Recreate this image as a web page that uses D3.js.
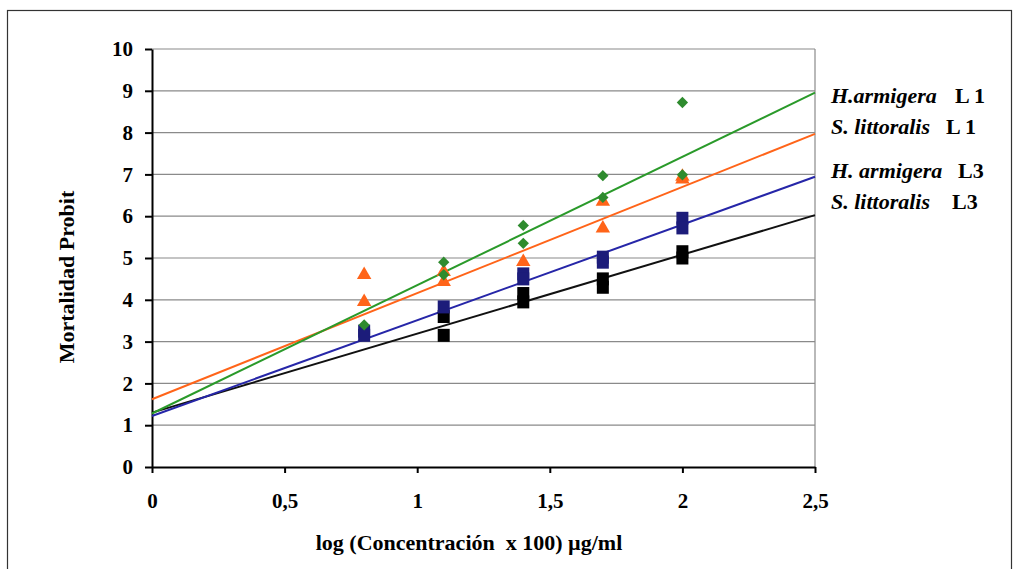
<!DOCTYPE html>
<meta charset="utf-8">
<script src="https://d3js.org/d3.v7.min.js"></script>
<style>
  body { margin: 0; background: #fff; }
  text { font-family: "Liberation Serif", "Times New Roman", serif; font-weight: bold; }
</style>
<div id="chart"></div>
<script>
// series names (legend)
var seriesNames = ["H.armigera", "S. littoralis", "H. armigera", "S. littoralis"];
var seriesStages = ["L 1", "L 1", "L3", "L3"];
var seriesColors = ["#2e8b2e", "#ff6419", "#1c1c7a", "#000000"];
var lineColors = ["#2a9a2a", "#ff6419", "#2626a8", "#111111"];
var seriesShapes = ["diamond", "triangle", "square", "square"];

// regression line parameters (probit = a + b * log conc)
var intercepts = [1.28, 1.62, 1.22, 1.30];
var slopes = [3.07, 2.54, 2.29, 1.89];

// observed points [log conc, probit]
var haL1 = [[0.8, 3.4], [1.1, 4.9], [1.1, 4.6], [1.4, 5.78], [1.4, 5.35], [1.7, 6.97], [1.7, 6.45], [2.0, 8.72], [2.0, 6.99]];
var slL1 = [[0.8, 4.6], [0.8, 3.95], [1.1, 4.67], [1.1, 4.43], [1.4, 4.91], [1.7, 6.35], [1.7, 5.71], [2.0, 6.95], [2.0, 6.88]];
var haL3 = [[0.8, 3.25], [0.8, 3.15], [1.1, 3.83], [1.4, 4.62], [1.4, 4.5], [1.7, 5.02], [1.7, 4.9], [2.0, 5.95], [2.0, 5.72]];
var slL3 = [[1.1, 3.6], [1.1, 3.15], [1.4, 4.15], [1.4, 3.95], [1.7, 4.5], [1.7, 4.3], [2.0, 5.15], [2.0, 5.0]];
var points = [haL1, slL1, haL3, slL3];

var xTicks = [0, 0.5, 1, 1.5, 2, 2.5];
var xTickLabels = ["0", "0,5", "1", "1,5", "2", "2,5"];
var yTicks = [0, 1, 2, 3, 4, 5, 6, 7, 8, 9, 10];

var W = 1020, H = 569;
var plotLeft = 152, plotRight = 815, plotTop = 49, plotBottom = 467;

var svg = d3.select("#chart").append("svg")
    .attr("width", W)
    .attr("height", H);

// outer frame
svg.append("rect")
    .attr("x", 7.5).attr("y", 10.5)
    .attr("width", 1004).attr("height", 580)
    .attr("fill", "none")
    .attr("stroke", "#333")
    .attr("stroke-width", 1.2);

var x = d3.scaleLinear().domain([0, 2.5]).range([plotLeft, plotRight]);
var y = d3.scaleLinear().domain([0, 10]).range([plotBottom, plotTop]);

// gridlines
svg.append("g")
    .selectAll("line")
    .data(yTicks.filter(function (d) { return d > 0; }))
    .enter().append("line")
    .attr("x1", plotLeft).attr("x2", plotRight)
    .attr("y1", function (d) { return y(d); })
    .attr("y2", function (d) { return y(d); })
    .attr("stroke", "#8a8a8a")
    .attr("stroke-width", 1.2);

// right border of plot area
svg.append("line")
    .attr("x1", plotRight).attr("x2", plotRight)
    .attr("y1", plotTop).attr("y2", plotBottom)
    .attr("stroke", "#8a8a8a")
    .attr("stroke-width", 1.2);

// axes
var yAxis = svg.append("g")
    .attr("transform", "translate(" + plotLeft + ",0)")
    .call(d3.axisLeft(y).tickValues(yTicks).tickSize(7).tickPadding(12).tickSizeOuter(0));
var xAxis = svg.append("g")
    .attr("transform", "translate(0," + plotBottom + ")")
    .call(d3.axisBottom(x).tickValues(xTicks).tickSize(6).tickPadding(20).tickSizeOuter(0)
        .tickFormat(function (d, i) { return xTickLabels[i]; }));

[yAxis, xAxis].forEach(function (a) {
    a.select(".domain").attr("stroke", "#000").attr("stroke-width", 2);
    a.selectAll(".tick line").attr("stroke", "#000").attr("stroke-width", 2);
    a.selectAll(".tick text")
        .attr("fill", "#000")
        .style("font-family", "'Liberation Serif', serif")
        .style("font-weight", "bold")
        .style("font-size", "21px");
});

// regression lines
var lineGroup = svg.append("g");
[3, 2, 1, 0].forEach(function (i) {
    lineGroup.append("line")
        .attr("x1", x(0)).attr("y1", y(intercepts[i]))
        .attr("x2", x(2.5)).attr("y2", y(intercepts[i] + slopes[i] * 2.5))
        .attr("stroke", lineColors[i])
        .attr("stroke-width", 2);
});

// markers
[3, 2, 1, 0].forEach(function (i) {
    var g = svg.append("g");
    var shape = seriesShapes[i];
    if (shape === "square") {
        g.selectAll("rect")
            .data(points[i])
            .enter().append("rect")
            .attr("x", function (d) { return x(d[0]) - 6; })
            .attr("y", function (d) { return y(d[1]) - 6.5; })
            .attr("width", 12)
            .attr("height", 13)
            .attr("fill", seriesColors[i]);
    } else if (shape === "diamond") {
        // square turned 45 degrees
        g.selectAll("path")
            .data(points[i])
            .enter().append("path")
            .attr("transform", function (d) { return "translate(" + x(d[0]) + "," + y(d[1]) + ") rotate(45)"; })
            .attr("d", d3.symbol().type(d3.symbolSquare).size(64))
            .attr("fill", seriesColors[i]);
    } else {
        g.selectAll("path")
            .data(points[i])
            .enter().append("path")
            .attr("transform", function (d) { return "translate(" + x(d[0]) + "," + y(d[1]) + ")"; })
            .attr("d", d3.symbol().type(d3.symbolTriangle).size(90))
            .attr("fill", seriesColors[i]);
    }
});

// axis titles
svg.append("text")
    .attr("transform", "translate(74,277) rotate(-90)")
    .attr("text-anchor", "middle")
    .style("font-size", "22px")
    .text("Mortalidad Probit");

svg.append("text")
    .attr("x", 469).attr("y", 550)
    .attr("text-anchor", "middle")
    .style("font-size", "22px")
    .attr("xml:space", "preserve")
    .text("log (Concentración  x 100) µg/ml");

// legend
var legendY = [103, 134, 178, 209];
var stageX = [955, 946, 958, 952];
var legend = svg.append("g");
seriesNames.forEach(function (name, i) {
    legend.append("text")
        .attr("x", 831).attr("y", legendY[i])
        .style("font-size", "22px")
        .style("font-style", "italic")
        .text(name);
    legend.append("text")
        .attr("x", stageX[i]).attr("y", legendY[i])
        .style("font-size", "22px")
        .text(seriesStages[i]);
});
</script>
